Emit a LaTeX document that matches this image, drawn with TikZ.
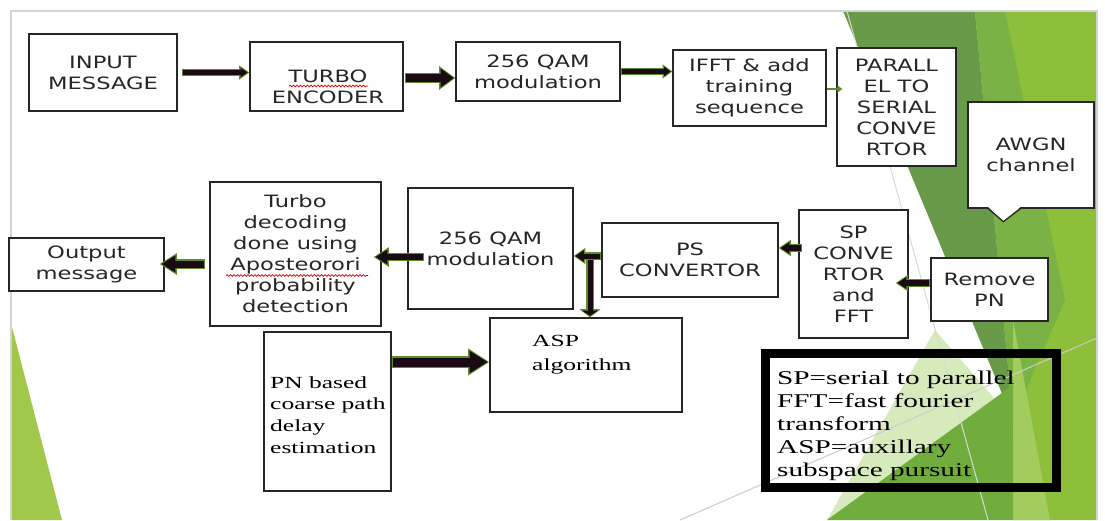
\documentclass[tikz,border=0pt]{standalone}
\usepackage{fontspec}
\usetikzlibrary{arrows.meta,calc,decorations.pathmorphing}
\newfontfamily\boxfont[FakeStretch=1.33]{DejaVu Sans}
\newfontfamily\serfont[FakeStretch=1.5]{Liberation Serif}
\definecolor{gBright}{HTML}{8DBF3B}
\definecolor{gDark}{HTML}{689A4A}
\definecolor{gMid}{HTML}{7BB245}
\definecolor{gPale}{HTML}{D6EABC}
\definecolor{gLow}{HTML}{70AD3D}
\definecolor{gLight}{HTML}{A2CD5E}
\definecolor{gLeft}{HTML}{A1C84B}
\definecolor{frameGray}{HTML}{D4D4D4}
\definecolor{arrowgreen}{HTML}{5E8C2A}
\definecolor{arrowfill}{HTML}{1A0A14}
\definecolor{boxline}{HTML}{262626}
\newcommand\barrow[5]{%
  \pgfmathsetmacro\bsw{#3+2.6}\pgfmathsetmacro\bhw{#4+4.5}\pgfmathsetmacro\bhl{#5+3.2}%
  \draw[arrowgreen, line width=\bsw pt, -{Triangle[width=\bhw pt,length=\bhl pt]}] #1 -- #2;
  \draw[arrowfill, line width=#3pt, shorten >=1.7pt, shorten <=1.3pt, -{Triangle[width=#4pt,length=#5pt]}] #1 -- #2;}
\begin{document}
\begin{tikzpicture}[x=1pt,y=-1pt,
  box/.style={draw=boxline, line width=1.3pt, fill=white, inner sep=0pt},
  sans/.style={font=\boxfont\fontsize{17}{21}\selectfont, align=center, text=black!85, inner sep=0pt},
  ser/.style={font=\serfont\fontsize{17}{23}\selectfont, align=left, text=black, inner sep=0pt},
  squig/.style={red!85!black, line width=0.7pt, decorate, decoration={snake, amplitude=0.9pt, segment length=3.5pt}}
]
\useasboundingbox (0,0) rectangle (1105,520);
\fill[white] (0,0) rectangle (1105,520);
% background green facets
\fill[gBright] (975,11) -- (1097,11) -- (1097,520) -- (1013,520) -- (1013,420) -- cycle;
\fill[gDark] (843,11) -- (975,11) -- (1013,420) -- cycle;
\fill[gMid] (975,11) -- (1005,11) -- (1065,300) -- (1013,420) -- cycle;
\fill[gLight] (1013,320) -- (1050,520) -- (1013,520) -- cycle;
\fill[gPale] (935,330) -- (1013,420) -- (1013,440) -- (827,520) -- cycle;
\fill[gLow] (827,520) -- (1013,385) -- (1013,520) -- cycle;
\fill[gLeft] (12,327) -- (12,520) -- (62,520) -- cycle;
\draw[white!70!gray, line width=1pt] (847,11) -- (988,520);
\draw[gray!40, line width=1pt] (680,520) -- (1097,338);
\draw[frameGray, line width=1.5pt] (11,520) -- (11,11) -- (1097,11) -- (1097,520);

% top row
\node[box, minimum width=148pt, minimum height=77pt, sans] (in) at (103,72.5) {INPUT\\MESSAGE};
\node[box, minimum width=153pt, minimum height=69pt] (enc) at (326.5,76.5) {};
\node[sans] (enct) at (328,86.5) {TURBO\\ENCODER};
\node[box, minimum width=164pt, minimum height=59pt, sans] (qam1) at (538,71.5) {256 QAM\\modulation};
\node[box, minimum width=153pt, minimum height=76pt, sans] (ifft) at (749.5,88) {IFFT \& add\\training\\sequence};
\node[box, minimum width=119pt, minimum height=118pt, sans] (pts) at (896.5,107) {PARALL\\EL TO\\SERIAL\\CONVE\\RTOR};
\node[box, minimum width=126pt, minimum height=106pt, sans] (awgn) at (1031,155) {AWGN\\channel};
\fill[white] ($(awgn.south west)+(21,-1.5)$) -- ($(awgn.south west)+(36,13)$) -- ($(awgn.south west)+(53,-1.5)$) -- cycle;
\draw[boxline, line width=1.3pt, line join=miter] ($(awgn.south west)+(21,0)$) -- ($(awgn.south west)+(36,13)$) -- ($(awgn.south west)+(53,0)$);

% middle row
\node[box, minimum width=109pt, minimum height=128pt, sans] (sp) at (853.5,274) {SP\\CONVE\\RTOR\\and\\FFT};
\node[box, minimum width=117pt, minimum height=63pt, sans] (rpn) at (989.5,289.5) {Remove\\PN};
\node[box, minimum width=176pt, minimum height=74pt, sans] (psc) at (690,260) {PS\\CONVERTOR};
\node[box, minimum width=165pt, minimum height=121pt, sans] (qam2) at (490.5,248.5) {256 QAM\\modulation};
\node[box, minimum width=171pt, minimum height=144pt, sans] (td) at (295.5,254) {Turbo\\decoding\\done using\\Aposteorori\\probability\\detection};
\node[box, minimum width=155pt, minimum height=53pt, sans] (out) at (86.5,264.5) {Output\\message};

% bottom row
\node[box, minimum width=127pt, minimum height=159pt] (pnb) at (327.5,411.5) {};
\node[ser, font=\serfont\fontsize{17}{21.7}\selectfont, anchor=west] (pnbt) at (270,415) {PN based\\coarse path\\delay\\estimation};
\node[box, minimum width=192pt, minimum height=94pt] (asp) at (586,365) {};
\node[ser, font=\serfont\fontsize{17}{24}\selectfont, anchor=west] (aspt) at (532,355) {ASP\\algorithm};
\node[draw=black, line width=9pt, minimum width=291pt, minimum height=134pt, inner sep=0pt] (leg) at (911,420.5) {};
\node[ser, font=\serfont\fontsize{19.5}{23}\selectfont, anchor=west] (legt) at (777,425.5) {SP=serial to parallel\\FFT=fast fourier\\transform\\ASP=auxillary\\subspace pursuit};

% spell-check squiggles
\draw[squig] (289,86) -- (368,86);
\draw[squig] (226,275.5) -- (368,275.5);

% connectors
\barrow{($(in.east)+(4,0)$)}{(enc.west |- in.east)}{4.5}{9}{7}
\barrow{($(enc.east |- 0,78)+(1,0)$)}{(qam1.west |- 0,78)}{8}{18}{13}
\barrow{(qam1.east)}{(ifft.west |- qam1.east)}{4.5}{9}{6.5}
\draw[arrowgreen, line width=2.5pt, -{Triangle[width=7pt,length=5pt]}] (ifft.east |- 0,89) -- ($(pts.west |- 0,89)+(6,0)$);
\barrow{(rpn.west |- 0,283)}{($(sp.east |- 0,283)+(-13,0)$)}{5.5}{11}{9}
\barrow{($(sp.west |- 0,248)+(4,0)$)}{(psc.east |- 0,248)}{5.5}{11}{9}
\coordinate (j) at (590,256);
\barrow{(j)}{(j |- asp.north)}{5}{16}{5}
\barrow{(psc.west |- 0,256)}{(qam2.east |- 0,256)}{5}{11}{8.5}
\barrow{($(qam2.west |- 0,257)+(17,0)$)}{($(td.east |- 0,257)+(-8,0)$)}{6}{14}{12}
\barrow{($(td.west |- 0,264)+(-4,0)$)}{($(out.east |- 0,264)+(-5,0)$)}{7}{16}{14}
\barrow{(pnb.east |- 0,362)}{(asp.west |- 0,362)}{9}{21}{18}
\end{tikzpicture}
\end{document}
